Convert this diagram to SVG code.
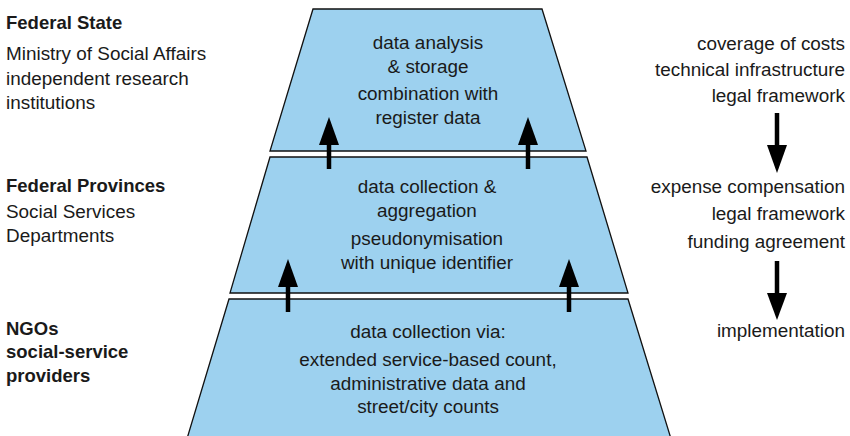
<svg xmlns="http://www.w3.org/2000/svg" width="850" height="436" viewBox="0 0 850 436">
<style>
.t{font-family:"Liberation Sans",Arial,sans-serif;font-size:18.9px;fill:#1a1a1a}
.b{font-weight:bold;font-size:18.5px}
.c{text-anchor:middle}
.r{text-anchor:end}
.trap{fill:#9dd1ef;stroke:#111;stroke-width:1.3}
.shaft{stroke:#000;stroke-width:4.5}
</style>
<rect width="850" height="436" fill="#fff"/>
<g id="level-federal-state">
<polygon class="trap" points="313,9 542,9 586,151 270,151"/>
<text class="t c" x="428" y="49">data analysis</text>
<text class="t c" x="428" y="73">&amp; storage</text>
<text class="t c" x="428" y="100">combination with</text>
<text class="t c" x="428" y="124">register data</text>
</g>
<g id="level-federal-provinces">
<polygon class="trap" points="270,157 587,157 628,293 230,293"/>
<text class="t c" x="427" y="193">data collection &amp;</text>
<text class="t c" x="427" y="217">aggregation</text>
<text class="t c" x="427" y="245">pseudonymisation</text>
<text class="t c" x="427" y="269">with unique identifier</text>
</g>
<g id="level-ngos">
<polygon class="trap" points="229,299 628,299 672,442 186,442"/>
<text class="t c" x="428" y="338">data collection via:</text>
<text class="t c" x="428" y="366">extended service-based count,</text>
<text class="t c" x="428" y="390">administrative data and</text>
<text class="t c" x="428" y="413">street/city counts</text>
</g>
<g id="label-federal-state">
<text class="t b" x="6" y="29">Federal State</text>
<text class="t" x="6" y="60">Ministry of Social Affairs</text>
<text class="t" x="6" y="85">independent research</text>
<text class="t" x="6" y="109">institutions</text>
</g>
<g id="label-federal-provinces">
<text class="t b" x="6" y="192">Federal Provinces</text>
<text class="t" x="6" y="218">Social Services</text>
<text class="t" x="6" y="242">Departments</text>
</g>
<g id="label-ngos">
<text class="t b" x="6" y="335">NGOs</text>
<text class="t b" x="6" y="358">social-service</text>
<text class="t b" x="6" y="382">providers</text>
</g>
<g id="right-federal">
<text class="t r" x="845" y="50">coverage of costs</text>
<text class="t r" x="845" y="76">technical infrastructure</text>
<text class="t r" x="845" y="102">legal framework</text>
</g>
<g id="right-provinces">
<text class="t r" x="845" y="193">expense compensation</text>
<text class="t r" x="845" y="220">legal framework</text>
<text class="t r" x="845" y="248">funding agreement</text>
</g>
<g id="right-ngos">
<text class="t r" x="845" y="337">implementation</text>
</g>
<g id="connectors">
<line class="shaft" x1="329" y1="169" x2="329" y2="143"/>
<polygon points="329,117 339,145 319,145"/>
<line class="shaft" x1="528" y1="169" x2="528" y2="143"/>
<polygon points="528,117 538,145 518,145"/>
<line class="shaft" x1="288" y1="312" x2="288" y2="285"/>
<polygon points="288,259 298,287 278,287"/>
<line class="shaft" x1="569" y1="312" x2="569" y2="285"/>
<polygon points="569,259 579,287 559,287"/>
<line class="shaft" x1="777" y1="113" x2="777" y2="147"/>
<polygon points="767,145 787,145 777,173"/>
<line class="shaft" x1="777" y1="261" x2="777" y2="295"/>
<polygon points="767,293 787,293 777,320"/>
</g>
</svg>
